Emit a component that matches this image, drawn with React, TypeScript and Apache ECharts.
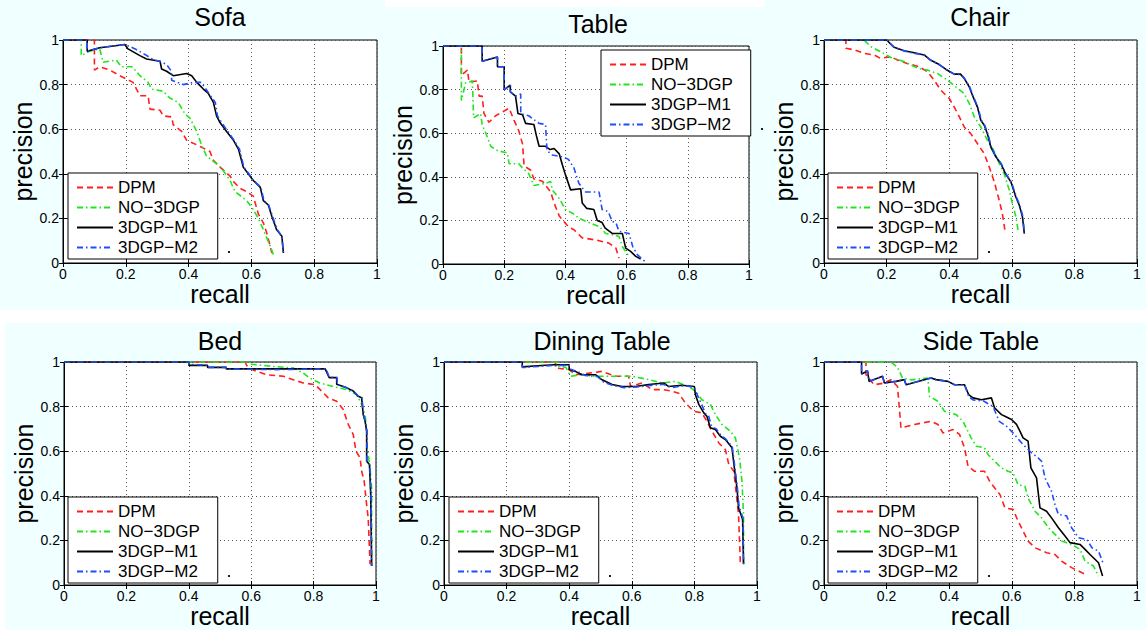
import React, { useEffect, useRef } from "react";
import * as echarts from "echarts";

type Pt = [number, number];

const seriesNames = ["DPM", "NO−3DGP", "3DGP−M1", "3DGP−M2"];
const panelTitles = ["Sofa", "Table", "Chair", "Bed", "Dining Table", "Side Table"];
const tickValues = [0, 0.2, 0.4, 0.6, 0.8, 1];

// ---------- Sofa ----------
const sofaDPM: Pt[] = [[0,1],[0.1,1],[0.1,0.865],[0.117,0.88],[0.149,0.865],[0.181,0.84],[0.223,0.81],[0.234,0.78],[0.245,0.75],[0.271,0.75],[0.277,0.69],[0.309,0.685],[0.319,0.66],[0.346,0.655],[0.351,0.62],[0.378,0.59],[0.394,0.55],[0.426,0.53],[0.447,0.515],[0.468,0.5],[0.479,0.46],[0.5,0.43],[0.532,0.39],[0.543,0.365],[0.564,0.335],[0.585,0.32],[0.606,0.3],[0.622,0.22],[0.638,0.18],[0.649,0.134],[0.66,0.075],[0.665,0.045]];
const sofaNO: Pt[] = [[0,1],[0.058,1],[0.058,0.93],[0.085,0.95],[0.117,0.96],[0.128,0.9],[0.17,0.91],[0.186,0.88],[0.22,0.88],[0.245,0.84],[0.271,0.81],[0.282,0.78],[0.319,0.77],[0.34,0.74],[0.367,0.72],[0.388,0.67],[0.404,0.65],[0.426,0.59],[0.441,0.53],[0.457,0.48],[0.484,0.45],[0.505,0.425],[0.532,0.37],[0.548,0.32],[0.585,0.28],[0.606,0.24],[0.622,0.2],[0.638,0.15],[0.66,0.075],[0.67,0.037]];
const sofaM1: Pt[] = [[0,1],[0.077,1],[0.077,0.95],[0.117,0.965],[0.197,0.98],[0.207,0.96],[0.245,0.93],[0.266,0.915],[0.309,0.905],[0.314,0.87],[0.33,0.86],[0.351,0.84],[0.394,0.85],[0.41,0.84],[0.426,0.81],[0.447,0.78],[0.463,0.76],[0.479,0.72],[0.489,0.66],[0.5,0.63],[0.521,0.59],[0.543,0.55],[0.559,0.51],[0.574,0.43],[0.59,0.4],[0.606,0.37],[0.628,0.34],[0.638,0.28],[0.654,0.26],[0.665,0.21],[0.68,0.15],[0.697,0.12],[0.702,0.045]];
const sofaM2: Pt[] = [[0,1],[0.077,1],[0.077,0.95],[0.117,0.965],[0.197,0.98],[0.23,0.96],[0.255,0.94],[0.29,0.91],[0.309,0.905],[0.33,0.89],[0.345,0.86],[0.346,0.82],[0.383,0.8],[0.415,0.81],[0.44,0.81],[0.455,0.78],[0.47,0.75],[0.485,0.72],[0.492,0.66],[0.505,0.63],[0.525,0.59],[0.545,0.55],[0.562,0.51],[0.576,0.43],[0.592,0.4],[0.606,0.37],[0.63,0.34],[0.64,0.28],[0.655,0.26],[0.667,0.21],[0.682,0.15],[0.697,0.12],[0.702,0.045]];

// ---------- Table ----------
const tableDPM: Pt[] = [[0,1],[0.06,1],[0.06,0.865],[0.08,0.89],[0.085,0.835],[0.112,0.84],[0.118,0.77],[0.128,0.77],[0.134,0.69],[0.15,0.65],[0.172,0.68],[0.216,0.715],[0.232,0.66],[0.248,0.61],[0.26,0.55],[0.265,0.45],[0.287,0.43],[0.297,0.39],[0.325,0.38],[0.352,0.33],[0.363,0.28],[0.38,0.22],[0.41,0.17],[0.428,0.157],[0.455,0.12],[0.5,0.11],[0.542,0.096],[0.565,0.073],[0.575,0.027]];
const tableNO: Pt[] = [[0,1],[0.06,1],[0.06,0.75],[0.074,0.83],[0.096,0.84],[0.1,0.67],[0.123,0.69],[0.128,0.64],[0.14,0.6],[0.156,0.54],[0.178,0.52],[0.21,0.51],[0.216,0.46],[0.248,0.46],[0.26,0.44],[0.28,0.415],[0.297,0.36],[0.335,0.37],[0.352,0.378],[0.357,0.34],[0.38,0.3],[0.4,0.25],[0.423,0.233],[0.444,0.21],[0.477,0.19],[0.51,0.172],[0.532,0.14],[0.575,0.127],[0.586,0.08],[0.608,0.035]];
const tableM1: Pt[] = [[0,1],[0.128,1],[0.128,0.93],[0.178,0.95],[0.178,0.905],[0.2,0.905],[0.2,0.8],[0.22,0.82],[0.22,0.79],[0.237,0.77],[0.245,0.69],[0.26,0.685],[0.27,0.645],[0.297,0.64],[0.305,0.59],[0.314,0.54],[0.335,0.54],[0.35,0.525],[0.363,0.53],[0.38,0.505],[0.39,0.455],[0.4,0.41],[0.417,0.34],[0.45,0.345],[0.455,0.28],[0.47,0.255],[0.493,0.25],[0.504,0.2],[0.52,0.19],[0.53,0.165],[0.553,0.14],[0.586,0.14],[0.597,0.073],[0.613,0.058],[0.63,0.035],[0.646,0.023]];
const tableM2: Pt[] = [[0,1],[0.128,1],[0.128,0.93],[0.178,0.95],[0.178,0.905],[0.2,0.905],[0.2,0.8],[0.22,0.82],[0.22,0.79],[0.237,0.77],[0.254,0.78],[0.254,0.69],[0.28,0.68],[0.314,0.645],[0.335,0.64],[0.34,0.52],[0.357,0.5],[0.395,0.49],[0.41,0.48],[0.428,0.44],[0.444,0.37],[0.466,0.33],[0.51,0.33],[0.52,0.25],[0.54,0.24],[0.553,0.195],[0.565,0.19],[0.575,0.15],[0.608,0.14],[0.62,0.08],[0.635,0.043],[0.66,0.012]];

// ---------- Chair ----------
const chairDPM: Pt[] = [[0,1],[0.07,1],[0.07,0.963],[0.1,0.955],[0.128,0.94],[0.16,0.933],[0.18,0.918],[0.213,0.925],[0.235,0.91],[0.266,0.895],[0.304,0.88],[0.33,0.858],[0.352,0.82],[0.373,0.775],[0.4,0.738],[0.416,0.7],[0.432,0.656],[0.448,0.61],[0.469,0.58],[0.49,0.536],[0.512,0.49],[0.528,0.43],[0.544,0.364],[0.56,0.28],[0.57,0.22],[0.578,0.147]];
const chairNO: Pt[] = [[0,1],[0.128,1],[0.15,0.97],[0.18,0.948],[0.213,0.922],[0.256,0.903],[0.3,0.873],[0.33,0.865],[0.362,0.85],[0.394,0.82],[0.421,0.79],[0.448,0.76],[0.464,0.716],[0.48,0.656],[0.501,0.61],[0.522,0.55],[0.544,0.5],[0.56,0.446],[0.576,0.4],[0.592,0.326],[0.602,0.266],[0.613,0.207],[0.62,0.147]];
const chairM1: Pt[] = [[0,1],[0.2,1],[0.224,0.967],[0.256,0.952],[0.288,0.943],[0.32,0.933],[0.34,0.91],[0.368,0.89],[0.39,0.868],[0.416,0.847],[0.436,0.847],[0.448,0.828],[0.464,0.79],[0.474,0.753],[0.49,0.7],[0.501,0.64],[0.512,0.618],[0.522,0.58],[0.533,0.52],[0.549,0.476],[0.565,0.446],[0.58,0.4],[0.597,0.364],[0.613,0.296],[0.624,0.259],[0.634,0.207],[0.64,0.132]];
const chairM2: Pt[] = [[0,1],[0.2,1],[0.226,0.965],[0.258,0.95],[0.29,0.94],[0.322,0.932],[0.342,0.908],[0.37,0.888],[0.392,0.866],[0.418,0.845],[0.438,0.846],[0.45,0.826],[0.466,0.788],[0.476,0.75],[0.492,0.698],[0.503,0.638],[0.514,0.616],[0.524,0.578],[0.535,0.518],[0.551,0.474],[0.567,0.444],[0.582,0.398],[0.599,0.362],[0.615,0.294],[0.626,0.257],[0.636,0.205],[0.64,0.135]];

// ---------- Bed ----------
const bedDPM: Pt[] = [[0,1],[0.58,1],[0.59,0.973],[0.617,0.958],[0.65,0.943],[0.703,0.936],[0.735,0.92],[0.767,0.906],[0.805,0.898],[0.826,0.869],[0.847,0.839],[0.874,0.824],[0.895,0.787],[0.911,0.72],[0.927,0.675],[0.936,0.6],[0.949,0.57],[0.954,0.51],[0.962,0.466],[0.97,0.36],[0.975,0.3],[0.981,0.093]];
const bedNO: Pt[] = [[0,1],[0.6,1],[0.6,0.99],[0.671,0.98],[0.735,0.973],[0.767,0.95],[0.788,0.928],[0.82,0.906],[0.863,0.89],[0.906,0.876],[0.938,0.854],[0.954,0.81],[0.965,0.764],[0.97,0.7],[0.972,0.615],[0.981,0.525],[0.986,0.436],[0.986,0.085]];
const bedM1: Pt[] = [[0,1],[0.4,1],[0.4,0.985],[0.46,0.985],[0.46,0.976],[0.52,0.976],[0.52,0.969],[0.837,0.969],[0.85,0.93],[0.874,0.93],[0.874,0.9],[0.906,0.884],[0.927,0.87],[0.943,0.846],[0.954,0.84],[0.959,0.764],[0.965,0.734],[0.97,0.69],[0.97,0.555],[0.979,0.54],[0.983,0.406],[0.986,0.085]];
const bedM2: Pt[] = [[0,1],[0.4,1],[0.4,0.99],[0.46,0.985],[0.46,0.976],[0.52,0.976],[0.52,0.969],[0.68,0.966],[0.68,0.969],[0.84,0.969],[0.85,0.932],[0.875,0.93],[0.876,0.9],[0.907,0.884],[0.928,0.87],[0.944,0.846],[0.955,0.84],[0.96,0.764],[0.966,0.734],[0.971,0.69],[0.971,0.555],[0.98,0.54],[0.984,0.406],[0.986,0.085]];

// ---------- Dining Table ----------
const diningDPM: Pt[] = [[0,1],[0.356,1],[0.356,0.973],[0.4,0.966],[0.42,0.943],[0.463,0.95],[0.505,0.958],[0.548,0.936],[0.59,0.936],[0.596,0.89],[0.633,0.906],[0.665,0.876],[0.702,0.876],[0.729,0.869],[0.75,0.86],[0.771,0.816],[0.798,0.779],[0.824,0.772],[0.84,0.734],[0.856,0.69],[0.878,0.637],[0.899,0.607],[0.91,0.54],[0.926,0.51],[0.941,0.316],[0.947,0.093]];
const diningNO: Pt[] = [[0,1],[0.36,1],[0.367,0.98],[0.39,0.975],[0.404,0.936],[0.44,0.943],[0.484,0.936],[0.548,0.936],[0.6,0.936],[0.654,0.921],[0.697,0.906],[0.739,0.913],[0.782,0.89],[0.803,0.869],[0.824,0.831],[0.851,0.81],[0.867,0.764],[0.888,0.72],[0.915,0.69],[0.931,0.66],[0.944,0.57],[0.952,0.466],[0.957,0.316],[0.957,0.093]];
const diningM1: Pt[] = [[0,1],[0.25,1],[0.25,0.978],[0.3,0.983],[0.35,0.988],[0.4,0.988],[0.4,0.966],[0.42,0.958],[0.44,0.943],[0.484,0.943],[0.505,0.92],[0.537,0.899],[0.569,0.89],[0.612,0.89],[0.654,0.899],[0.702,0.906],[0.718,0.89],[0.76,0.896],[0.8,0.89],[0.803,0.854],[0.814,0.81],[0.83,0.772],[0.84,0.757],[0.851,0.705],[0.867,0.697],[0.883,0.667],[0.899,0.652],[0.92,0.615],[0.929,0.51],[0.936,0.436],[0.941,0.346],[0.954,0.294],[0.957,0.093]];
const diningM2: Pt[] = [[0,1],[0.25,1],[0.25,0.975],[0.3,0.98],[0.35,0.985],[0.4,0.985],[0.4,0.97],[0.43,0.955],[0.45,0.94],[0.49,0.935],[0.51,0.91],[0.54,0.895],[0.575,0.885],[0.615,0.888],[0.66,0.895],[0.7,0.9],[0.73,0.885],[0.77,0.895],[0.8,0.885],[0.81,0.85],[0.82,0.82],[0.835,0.77],[0.845,0.76],[0.855,0.71],[0.87,0.7],[0.885,0.67],[0.9,0.655],[0.921,0.62],[0.93,0.52],[0.937,0.44],[0.943,0.35],[0.955,0.3],[0.957,0.093]];

// ---------- Side Table ----------
const sideDPM: Pt[] = [[0,1],[0.134,1],[0.134,0.943],[0.16,0.898],[0.19,0.905],[0.214,0.92],[0.235,0.89],[0.246,0.704],[0.289,0.72],[0.342,0.734],[0.364,0.72],[0.38,0.682],[0.412,0.697],[0.433,0.675],[0.449,0.615],[0.46,0.533],[0.481,0.51],[0.513,0.51],[0.529,0.466],[0.545,0.436],[0.562,0.406],[0.578,0.346],[0.604,0.339],[0.62,0.287],[0.636,0.242],[0.652,0.197],[0.674,0.167],[0.711,0.145],[0.738,0.137],[0.759,0.107],[0.791,0.078],[0.813,0.063],[0.834,0.048]];
const sideNO: Pt[] = [[0,1],[0.214,1],[0.235,0.976],[0.251,0.928],[0.278,0.92],[0.332,0.928],[0.337,0.846],[0.364,0.824],[0.385,0.779],[0.422,0.764],[0.444,0.734],[0.47,0.66],[0.487,0.622],[0.513,0.615],[0.524,0.585],[0.545,0.555],[0.567,0.525],[0.588,0.51],[0.604,0.503],[0.62,0.45],[0.642,0.443],[0.652,0.39],[0.674,0.331],[0.695,0.301],[0.717,0.257],[0.738,0.227],[0.759,0.197],[0.791,0.182],[0.818,0.16],[0.834,0.107],[0.861,0.085],[0.877,0.04]];
const sideM1: Pt[] = [[0,1],[0.12,1],[0.12,0.946],[0.139,0.96],[0.144,0.913],[0.187,0.936],[0.193,0.906],[0.23,0.913],[0.257,0.921],[0.262,0.898],[0.3,0.913],[0.342,0.928],[0.358,0.921],[0.396,0.913],[0.417,0.898],[0.449,0.898],[0.462,0.854],[0.476,0.839],[0.503,0.831],[0.535,0.839],[0.545,0.794],[0.556,0.779],[0.567,0.764],[0.578,0.757],[0.599,0.742],[0.615,0.72],[0.626,0.69],[0.636,0.66],[0.652,0.645],[0.661,0.525],[0.679,0.48],[0.69,0.346],[0.711,0.331],[0.727,0.301],[0.749,0.257],[0.77,0.22],[0.786,0.19],[0.818,0.182],[0.834,0.16],[0.85,0.137],[0.877,0.1],[0.89,0.04]];
const sideM2: Pt[] = [[0,1],[0.12,1],[0.12,0.946],[0.139,0.96],[0.144,0.913],[0.187,0.936],[0.193,0.906],[0.23,0.913],[0.257,0.921],[0.262,0.898],[0.3,0.913],[0.342,0.928],[0.358,0.921],[0.396,0.913],[0.417,0.898],[0.449,0.898],[0.462,0.845],[0.476,0.83],[0.51,0.825],[0.54,0.8],[0.56,0.734],[0.583,0.712],[0.604,0.682],[0.636,0.63],[0.663,0.593],[0.684,0.57],[0.695,0.555],[0.706,0.48],[0.727,0.42],[0.738,0.36],[0.749,0.316],[0.775,0.31],[0.791,0.257],[0.813,0.212],[0.84,0.204],[0.856,0.167],[0.877,0.152],[0.893,0.093]];

const panelData: Pt[][][] = [
  [sofaDPM, sofaNO, sofaM1, sofaM2],
  [tableDPM, tableNO, tableM1, tableM2],
  [chairDPM, chairNO, chairM1, chairM2],
  [bedDPM, bedNO, bedM1, bedM2],
  [diningDPM, diningNO, diningM1, diningM2],
  [sideDPM, sideNO, sideM1, sideM2],
];

// ---------- layout (pixels) ----------
const layout = [
  { grid: [63, 40, 314, 223], legend: [68, 173], title: [220, 17] },
  { grid: [443, 46, 306, 218], legend: [601, 50], title: [598, 24] },
  { grid: [824, 40, 313, 223], legend: [828, 173], title: [980, 17] },
  { grid: [64, 362, 312, 223], legend: [68, 497], title: [220, 341] },
  { grid: [444, 362, 313, 223], legend: [449, 497], title: [602, 341] },
  { grid: [824, 362, 313, 223], legend: [828, 497], title: [981, 341] },
];
const legendBox = [147, 86];

const FONT = '"Liberation Sans", Arial, Helvetica, sans-serif';
const lineStyles = [
  { color: "#ff1f1f", width: 1.6, type: [6, 4] },
  { color: "#1fe61f", width: 1.6, type: [6, 3, 1.5, 3] },
  { color: "#000000", width: 1.6, type: "solid" },
  { color: "#1f4dff", width: 1.6, type: [6, 3, 1.5, 3] },
];

const fmt = (v: number) => String(Math.round(v * 10) / 10);

function buildOption() {
  const grids: any[] = [];
  const xAxes: any[] = [];
  const yAxes: any[] = [];
  const series: any[] = [];
  const legends: any[] = [];
  const graphics: any[] = [];

  graphics.push(
    { type: "rect", shape: { x: 385, y: 0, width: 380, height: 7 }, style: { fill: "#ffffff" }, silent: true },
    { type: "rect", shape: { x: 0, y: 310, width: 1146, height: 13 }, style: { fill: "#ffffff" }, silent: true },
    { type: "rect", shape: { x: 0, y: 323, width: 5, height: 307 }, style: { fill: "#ffffff" }, silent: true }
  );

  layout.forEach((lay, i) => {
    const [l, t, w, h] = lay.grid;
    grids.push({
      left: l, top: t, width: w, height: h,
      show: true, backgroundColor: "#ffffff", borderColor: "#000", borderWidth: 1,
    });
    const common = { type: "value", min: tickValues[0], max: tickValues[tickValues.length - 1], interval: 0.2, gridIndex: i };
    const tick = { show: true, inside: true, length: 4, lineStyle: { color: "#000" } };
    const line = { show: true, lineStyle: { color: "#000", width: 1 } };
    const split = { show: true, lineStyle: { color: "#555", type: [1, 3], width: 1 } };
    xAxes.push({
      ...common,
      position: "bottom",
      name: "recall", nameLocation: "middle", nameGap: 4,
      nameTextStyle: { fontSize: 25, color: "#000", fontFamily: FONT },
      axisLine: line, axisTick: tick,
      axisLabel: { show: true, margin: 4, fontSize: 14, color: "#000", fontFamily: FONT, formatter: fmt },
      splitLine: split,
    });
    xAxes.push({
      ...common,
      position: "top",
      axisLine: line, axisTick: tick,
      axisLabel: { show: false },
      splitLine: { show: false },
    });
    yAxes.push({
      ...common,
      position: "left",
      name: "precision", nameLocation: "middle", nameGap: 28,
      nameTextStyle: { fontSize: 25, color: "#000", fontFamily: FONT },
      axisLine: line, axisTick: tick,
      axisLabel: { show: true, margin: 4, fontSize: 14, color: "#000", fontFamily: FONT, formatter: fmt },
      splitLine: split,
    });
    yAxes.push({
      ...common,
      position: "right",
      axisLine: line, axisTick: tick,
      axisLabel: { show: false },
      splitLine: { show: false },
    });

    panelData[i].forEach((pts, k) => {
      series.push({
        type: "line",
        name: seriesNames[k],
        xAxisIndex: 2 * i,
        yAxisIndex: 2 * i,
        data: pts,
        symbol: "none",
        showSymbol: false,
        lineStyle: lineStyles[k],
        itemStyle: { color: lineStyles[k].color },
        z: 2 + k * 0.1,
        silent: true,
      });
    });

    legends.push({
      left: lay.legend[0], top: lay.legend[1],
      orient: "vertical",
      data: seriesNames,
      itemWidth: 36, itemHeight: 14, itemGap: 3,
      padding: [6, 18, 3, 8],
      backgroundColor: "#ffffff", borderColor: "#000", borderWidth: 1,
      textStyle: { fontSize: 17, color: "#000", fontFamily: FONT },
      itemStyle: { opacity: 0, borderWidth: 0 },
      selectedMode: false,
      z: 10,
    });

    graphics.push({
      type: "text",
      x: lay.title[0], y: lay.title[1],
      style: { text: panelTitles[i], fontSize: 25, fontFamily: FONT, fill: "#000", align: "center", verticalAlign: "middle" },
      silent: true,
    });
    graphics.push({
      type: "circle",
      shape: { cx: lay.legend[0] + legendBox[0] + 14, cy: lay.legend[1] + legendBox[1] - 7, r: 1.1 },
      style: { fill: "#000" },
      silent: true,
      z: 20,
    });
  });

  return {
    animation: false,
    backgroundColor: "#f0ffff",
    textStyle: { fontFamily: FONT },
    grid: grids,
    xAxis: xAxes,
    yAxis: yAxes,
    legend: legends,
    series,
    graphic: graphics,
  };
}

export default function App() {
  const ref = useRef<HTMLDivElement>(null);
  useEffect(() => {
    document.body.style.margin = "0";
    if (!ref.current) return;
    const chart = echarts.init(ref.current, undefined, { renderer: "svg" });
    chart.setOption(buildOption() as any);
    return () => chart.dispose();
  }, []);
  return (
    <div
      ref={ref}
      style={{ position: "absolute", left: 0, top: 0, width: 1146, height: 630 }}
    />
  );
}
